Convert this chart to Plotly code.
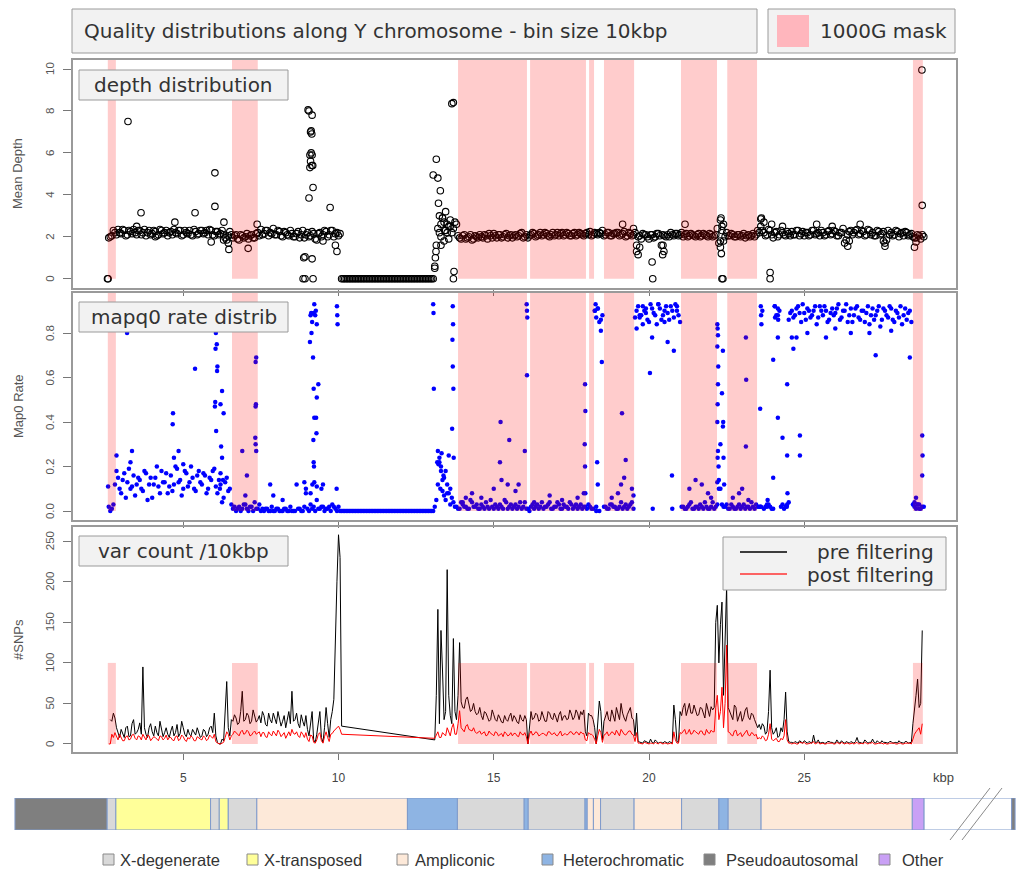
import plotly.graph_objects as go

W, H = 1017, 870
def fx(px): return px / W
def fy(py): return 1 - py / H

# ---------------- data ----------------
bin_start_kbp = 2.6
bin_step_kbp = 0.1

depth = [
    1.95, 2.05, 2.2, 2.35, 2.15, 2.3, 2.1, 2.25, 2.35, 2.1,
    2.3, 2.2, 2.05, 2.3, 2.15, 2.25, 2.1, 2.3, 2.2, 2.05,
    2.25, 2.35, 2.15, 2.3, 2.1, 2.2, 2.3, 2.05, 2.25, 2.15,
    2.3, 2.2, 2.1, 2.3, 2.05, 2.25, 2.15, 2.1, 1.85, 2.25,
    1.95, 2.1, 1.85, 2.05, 2.0, 1.9, 2.1, 1.95, 2.2, 2.35,
    2.15, 2.3, 2.2, 2.4, 2.1, 2.25, 2.0, 2.2, 2.05, 2.15,
    2.0, 2.25, 2.1, 1.95, 2.2, 2.05, 2.15, 1.85, 2.2, 2.1,
    2.25, 2.1, 2.3, 2.15, 2.05, 0, 0, 0, 0, 0,
    0, 0, 0, 0, 0, 0, 0, 0, 0, 0,
    0, 0, 0, 0, 0, 0, 0, 0, 0, 0,
    0, 0, 0, 0, 0, 0.6, 2.4, 2.0, 2.7, 2.2,
    2.5, 2.4, 2.6, 1.95, 2.05, 1.9, 2.0, 1.85, 2.05, 1.95,
    2.0, 2.1, 1.9, 2.05, 2.15, 1.95, 2.1, 2.0, 2.15, 2.05,
    1.95, 2.1, 2.05, 2.2, 2.0, 1.95, 2.1, 2.15, 2.05, 2.2,
    2.1, 2.15, 2.0, 2.2, 2.1, 2.05, 2.2, 2.1, 2.15, 2.05,
    2.2, 2.1, 2.15, 2.05, 2.2, 2.25, 2.1, 2.15, 2.2, 2.3,
    2.1, 2.2, 2.05, 2.15, 2.2, 2.1, 2.25, 2.05, 2.15, 2.1,
    1.6, 2.05, 2.15, 2.1, 1.9, 2.1, 2.0, 2.15, 1.6, 2.05,
    2.1, 2.2, 2.05, 2.15, 2.1, 2.0, 2.15, 2.05, 2.1, 2.0,
    2.15, 2.05, 2.1, 2.0, 2.1, 2.05, 2.4, 1.8, 2.6, 2.2,
    2.05, 2.1, 2.0, 2.1, 2.05, 1.95, 2.1, 2.05, 2.0, 2.3,
    2.5, 2.2, 2.1, 2.3, 1.95, 2.25, 2.1, 2.2, 2.05, 2.15,
    2.25, 2.1, 2.3, 2.15, 2.05, 2.2, 2.1, 2.3, 2.15, 2.05,
    2.2, 2.1, 2.3, 2.15, 2.25, 2.05, 2.2, 1.7, 2.1, 2.3,
    2.2, 2.35, 2.15, 2.25, 2.1, 2.3, 2.2, 2.05, 2.25, 2.15,
    1.7, 2.3, 2.2, 2.1, 2.25, 2.15, 2.05, 2.2, 2.1, 2.0,
    1.95, 2.05, 2.1,
]

# second sample per bin (offset by half a bin)
depth_b = [
    2.0, 2.3, 2.1, 2.2, 2.35, 2.05, 2.3, 2.15, 2.2, 2.3,
    2.1, 2.35, 2.2, 2.1, 2.3, 2.05, 2.35, 2.15, 2.3, 2.2,
    2.1, 2.2, 2.3, 2.05, 2.3, 2.15, 2.1, 2.35, 2.1, 2.3,
    2.15, 2.3, 2.35, 2.1, 2.25, 2.1, 2.3, 1.95, 2.05, 2.1,
    2.05, 1.9, 2.1, 1.95, 2.15, 2.05, 1.95, 2.15, 2.05, 2.1,
    2.3, 2.05, 2.15, 2.1, 2.3, 2.05, 2.25, 2.1, 2.3, 2.0,
    2.15, 1.95, 2.3, 2.1, 2.0, 2.25, 1.9, 2.15, 2.0, 2.3,
    2.0, 2.3, 2.0, 2.2, 2.15, 0, 0, 0, 0, 0,
    0, 0, 0, 0, 0, 0, 0, 0, 0, 0,
    0, 0, 0, 0, 0, 0, 0, 0, 0, 0,
    0, 0, 0, 0, 0, 1.6, 2.2, 2.9, 2.3, 2.5,
    2.2, 2.7, 2.05, 1.9, 2.1, 1.95, 2.1, 1.9, 2.0, 2.1,
    1.95, 2.05, 2.15, 1.95, 2.05, 2.1, 1.95, 2.1, 1.95, 2.1,
    2.05, 2.0, 2.15, 1.95, 2.1, 2.05, 2.2, 2.0, 2.1, 2.05,
    2.2, 2.05, 2.1, 2.05, 2.2, 2.15, 2.05, 2.2, 2.05, 2.15,
    2.05, 2.2, 2.1, 2.15, 2.1, 2.05, 2.2, 2.1, 2.15, 2.05,
    2.2, 2.05, 2.15, 2.2, 2.05, 2.15, 2.0, 2.2, 2.05, 2.2,
    2.0, 1.9, 2.1, 2.0, 2.1, 1.95, 2.15, 2.05, 2.1, 2.0,
    2.0, 2.1, 2.15, 2.05, 2.2, 2.1, 2.0, 2.15, 2.05, 2.1,
    2.0, 2.15, 2.05, 2.15, 2.0, 2.1, 1.7, 2.3, 2.0, 2.05,
    2.15, 2.0, 2.1, 2.0, 2.15, 2.05, 2.0, 2.15, 2.1, 2.2,
    2.3, 2.05, 2.35, 2.1, 2.2, 2.0, 2.3, 2.1, 2.25, 2.05,
    2.1, 2.3, 2.05, 2.25, 2.2, 2.05, 2.3, 2.1, 2.2, 2.3,
    2.05, 2.25, 2.1, 2.3, 2.05, 2.2, 2.4, 1.85, 2.25, 2.1,
    2.3, 2.1, 2.3, 2.05, 2.35, 2.1, 2.05, 2.3, 2.1, 2.25,
    1.85, 2.1, 2.05, 2.3, 2.0, 2.2, 2.25, 2.05, 2.15, 1.95,
    2.1, 1.9, 2.0,
]

depth_outliers = [
    (2.56, 0), (2.58, 0), (3.22, 7.5), (3.64, 3.15), (4.73, 2.7), (5.38, 3.15),
    (6.02, 5.05), (6.02, 3.45), (6.31, 2.7), (6.47, 1.4), (6.45, 1.7), (7.09, 1.45),
    (7.38, 2.6), (3.5, 2.5), (4.1, 2.0), (5.9, 1.75), (6.3, 1.85),
    (8.86, 0), (8.92, 0), (9.18, 0), (8.88, 1.0), (8.92, 1.05), (9.15, 0.95),
    (9.02, 8.05), (9.05, 8.0), (9.15, 7.8), (9.12, 7.05), (9.1, 7.0), (9.14, 6.9),
    (9.12, 6.0), (9.08, 5.9), (9.15, 5.9), (9.1, 5.6), (9.14, 5.4), (9.08, 5.3),
    (9.17, 5.4), (9.18, 4.35), (9.05, 3.85), (9.73, 3.4), (9.95, 1.3), (9.9, 1.6),
    (9.5, 1.8),
    (13.1, 0.5), (13.12, 1.0), (13.14, 1.3), (13.15, 5.7), (13.05, 4.95), (13.2, 4.8),
    (13.28, 4.2), (13.22, 3.6), (13.25, 3.0), (13.3, 1.6), (13.35, 2.9), (13.4, 1.8),
    (13.45, 3.2), (13.5, 2.6), (13.55, 1.9), (13.6, 2.8), (13.65, 8.35), (13.7, 8.4),
    (13.7, 0), (13.72, 0.35), (13.3, 2.6), (13.42, 2.3),
    (19.15, 2.6), (19.5, 2.4), (19.6, 1.3), (19.65, 1.15), (19.7, 1.5), (20.1, 0.8),
    (20.12, 0), (20.48, 1.3), (20.45, 1.6), (20.44, 1.15), (21.16, 2.6),
    (22.3, 2.8), (22.32, 2.9), (22.35, 2.5), (22.3, 1.5), (22.33, 1.2), (22.38, 0),
    (22.35, 0), (22.4, 1.8),
    (23.6, 2.85), (23.62, 2.9), (23.7, 2.7), (23.9, 0.3), (23.9, 0), (23.95, 2.6),
    (24.3, 2.5), (26.4, 1.55), (26.45, 1.8), (27.6, 1.55), (27.55, 1.8), (25.4, 2.6),
    (25.9, 2.5), (26.8, 2.6),
    (28.55, 1.5), (28.79, 9.95), (28.8, 3.5), (28.6, 1.75),
]

mapq0 = [
    0.02, 0.01, 0.12, 0.15, 0.08, 0.17, 0.13, 0.1, 0.16, 0.12,
    0.14, 0.09, 0.17, 0.12, 0.06, 0.15, 0.11, 0.18, 0.13, 0.08,
    0.16, 0.12, 0.19, 0.14, 0.1, 0.17, 0.13, 0.15, 0.09, 0.18,
    0.12, 0.16, 0.1, 0.14, 0.19, 0.08, 0.12, 0.06, 0.15, 0.1,
    0.01, 0.0, 0.02, 0.01, 0.03, 0.0, 0.02, 0.04, 0.01, 0.0,
    0.0, 0.01, 0.0, 0.0, 0.01, 0.0, 0.0, 0.01, 0.0, 0.0,
    0.0, 0.01, 0.0, 0.02, 0.01, 0.03, 0.02, 0.05, 0.01, 0.02,
    0.01, 0.02, 0.03, 0.01, 0.02, 0, 0, 0, 0, 0,
    0, 0, 0, 0, 0, 0, 0, 0, 0, 0,
    0, 0, 0, 0, 0, 0, 0, 0, 0, 0,
    0, 0, 0, 0, 0, 0.02, 0.12, 0.2, 0.15, 0.08,
    0.1, 0.04, 0.02, 0.01, 0.03, 0.02, 0.01, 0.04, 0.02, 0.01,
    0.03, 0.01, 0.02, 0.05, 0.01, 0.02, 0.03, 0.01, 0.04, 0.02,
    0.01, 0.03, 0.02, 0.01, 0.04, 0.01, 0.02, 0.01, 0.03, 0.02,
    0.01, 0.02, 0.04, 0.01, 0.02, 0.03, 0.01, 0.02, 0.01, 0.03,
    0.02, 0.01, 0.03, 0.02, 0.01, 0.02, 0.01, 0.02, 0.0, 0.88,
    0.02, 0.01, 0.03, 0.02, 0.01, 0.04, 0.02, 0.01, 0.03, 0.01,
    0.9, 0.87, 0.92, 0.89, 0.85, 0.91, 0.88, 0.93, 0.86, 0.9,
    0.89, 0.92, 0.87, 0.9, 0.85, 0.02, 0.01, 0.03, 0.01, 0.02,
    0.01, 0.02, 0.04, 0.01, 0.02, 0.01, 0.03, 0.1, 0.02, 0.03,
    0.01, 0.02, 0.01, 0.03, 0.02, 0.01, 0.02, 0.04, 0.01, 0.02,
    0.02, 0.01, 0.03, 0.02, 0.01, 0.88, 0.9, 0.03, 0.02, 0.86,
    0.9, 0.88, 0.92, 0.85, 0.89, 0.91, 0.87, 0.9, 0.84, 0.92,
    0.88, 0.9, 0.86, 0.91, 0.89, 0.93, 0.87, 0.9, 0.85, 0.91,
    0.88, 0.92, 0.86, 0.9, 0.89, 0.84, 0.91, 0.88, 0.92, 0.86,
    0.9, 0.87, 0.91, 0.85, 0.89, 0.92, 0.88, 0.86, 0.9, 0.03,
    0.01, 0.03, 0.02,
]

mapq0_b = [
    0.0, 0.03, 0.18, 0.1, 0.14, 0.06, 0.19, 0.11, 0.07, 0.15,
    0.1, 0.18, 0.05, 0.15, 0.12, 0.2, 0.08, 0.13, 0.17, 0.11,
    0.09, 0.2, 0.13, 0.07, 0.18, 0.11, 0.2, 0.1, 0.16, 0.13,
    0.17, 0.08, 0.15, 0.18, 0.11, 0.14, 0.04, 0.13, 0.09, 0.03,
    0.02, 0.01, 0.0, 0.03, 0.01, 0.02, 0.0, 0.01, 0.03, 0.01,
    0.01, 0.0, 0.02, 0.0, 0.01, 0.0, 0.01, 0.0, 0.02, 0.0,
    0.12, 0.01, 0.0, 0.1, 0.0, 0.01, 0.0, 0.01, 0.02, 0.0,
    0.01, 0.0, 0.02, 0.0, 0.0, 0, 0, 0, 0, 0,
    0, 0, 0, 0, 0, 0, 0, 0, 0, 0,
    0, 0, 0, 0, 0, 0, 0, 0, 0, 0,
    0, 0, 0, 0, 0, 0.05, 0.22, 0.09, 0.18, 0.25,
    0.06, 0.02, 0.01, 0.04, 0.02, 0.01, 0.05, 0.02, 0.03, 0.01,
    0.02, 0.04, 0.01, 0.02, 0.03, 0.01, 0.02, 0.05, 0.01, 0.03,
    0.02, 0.01, 0.04, 0.02, 0.01, 0.0, 0.03, 0.02, 0.01, 0.04,
    0.02, 0.03, 0.01, 0.02, 0.04, 0.01, 0.03, 0.02, 0.04, 0.01,
    0.03, 0.02, 0.01, 0.02, 0.03, 0.01, 0.9, 0.91, 0.86, 0.02,
    0.01, 0.03, 0.02, 0.01, 0.02, 0.01, 0.03, 0.02, 0.04, 0.87,
    0.92, 0.88, 0.9, 0.86, 0.93, 0.89, 0.84, 0.91, 0.88, 0.92,
    0.86, 0.9, 0.93, 0.88, 0.02, 0.01, 0.02, 0.04, 0.01, 0.02,
    0.03, 0.01, 0.02, 0.01, 0.04, 0.02, 0.14, 0.03, 0.02, 0.01,
    0.03, 0.01, 0.02, 0.01, 0.03, 0.02, 0.01, 0.02, 0.03, 0.02,
    0.9, 0.02, 0.03, 0.01, 0.92, 0.88, 0.02, 0.01, 0.03, 0.89,
    0.87, 0.91, 0.89, 0.93, 0.86, 0.9, 0.88, 0.92, 0.87, 0.9,
    0.92, 0.85, 0.89, 0.88, 0.91, 0.86, 0.9, 0.93, 0.88, 0.85,
    0.91, 0.87, 0.9, 0.85, 0.92, 0.88, 0.86, 0.9, 0.83, 0.91,
    0.88, 0.92, 0.86, 0.9, 0.87, 0.84, 0.91, 0.89, 0.85, 0.02,
    0.03, 0.01, 0.02,
]

mapq0_outliers = [
    (2.58, 0.11), (2.85, 0.25), (3.19, 0.8), (3.3, 0.22), (3.35, 0.27), (4.67, 0.44),
    (4.66, 0.39), (4.85, 0.27), (5.0, 0.21), (5.38, 0.64), (4.7, 0.24),
    (6.05, 0.8), (6.08, 0.75), (6.04, 0.73), (6.1, 0.65), (6.09, 0.63), (6.03, 0.49),
    (6.02, 0.47), (6.06, 0.36), (6.25, 0.54), (6.3, 0.44), (6.2, 0.48), (6.22, 0.29),
    (6.25, 0.24), (6.2, 0.17), (6.18, 0.1), (6.28, 0.14),
    (6.9, 0.27), (7.05, 0.16), (7.0, 0.07), (7.35, 0.69), (7.33, 0.67), (7.34, 0.48),
    (7.33, 0.47), (7.32, 0.33), (7.33, 0.3), (7.35, 0.27),
    (7.8, 0.12), (7.9, 0.07), (8.2, 0.05), (8.9, 0.13), (8.95, 0.08),
    (9.1, 0.88), (9.12, 0.89), (9.15, 0.85), (9.2, 0.89), (9.22, 0.93), (9.25, 0.88),
    (9.27, 0.9), (9.3, 0.84), (9.13, 0.8), (9.08, 0.76), (9.18, 0.69), (9.2, 0.55),
    (9.35, 0.57), (9.3, 0.51), (9.28, 0.42), (9.22, 0.42), (9.29, 0.35), (9.19, 0.32),
    (9.2, 0.22), (9.21, 0.2), (9.16, 0.12), (9.22, 0.13), (9.3, 0.11), (9.1, 0.08),
    (9.45, 0.1), (9.5, 0.12), (9.95, 0.92), (9.96, 0.88), (9.97, 0.84), (9.94, 0.1),
    (13.05, 0.93), (13.06, 0.89), (13.07, 0.55), (13.68, 0.92), (13.69, 0.84),
    (13.67, 0.77), (13.68, 0.65), (13.7, 0.55), (13.66, 0.37), (13.71, 0.24),
    (13.2, 0.27), (13.25, 0.24), (13.22, 0.21), (13.3, 0.18), (13.35, 0.14),
    (13.28, 0.1), (13.4, 0.07), (13.45, 0.05), (13.18, 0.22), (13.32, 0.26),
    (13.38, 0.16), (13.5, 0.12), (13.55, 0.08), (13.6, 0.03),
    (14.0, 0.04), (14.1, 0.06), (14.3, 0.08), (14.6, 0.06), (15.0, 0.1), (15.22, 0.4),
    (15.5, 0.32), (15.2, 0.22), (15.25, 0.14), (15.45, 0.12), (15.7, 0.09), (15.8, 0.12),
    (16.0, 0.27), (16.06, 0.93), (16.07, 0.9), (16.08, 0.87), (16.07, 0.61), (16.3, 0.04),
    (16.8, 0.07), (17.2, 0.05), (17.7, 0.06), (17.9, 0.08),
    (17.94, 0.57), (17.95, 0.45), (17.93, 0.3), (17.94, 0.2), (17.95, 0.08),
    (18.26, 0.9), (18.28, 0.93), (18.3, 0.87), (18.35, 0.91), (18.4, 0.85),
    (18.45, 0.81), (18.48, 0.67), (18.33, 0.22), (18.35, 0.12), (18.3, 0.0),
    (19.13, 0.44), (19.25, 0.23), (19.2, 0.15), (19.1, 0.12), (19.0, 0.08), (18.8, 0.06),
    (19.45, 0.1), (19.5, 0.07),
    (19.6, 0.82), (19.7, 0.88), (19.8, 0.84), (20.03, 0.62), (20.1, 0.78), (20.6, 0.76),
    (20.8, 0.72), (20.12, 0.01), (20.75, 0.01), (20.74, 0.16), (19.9, 0.91), (20.3, 0.93),
    (20.5, 0.85), (20.9, 0.92),
    (21.3, 0.1), (21.5, 0.14), (21.7, 0.12), (21.9, 0.08), (22.0, 0.06),
    (22.2, 0.84), (22.21, 0.82), (22.22, 0.79), (22.2, 0.74), (22.23, 0.65),
    (22.22, 0.57), (22.21, 0.48), (22.2, 0.4), (22.22, 0.27), (22.2, 0.13),
    (22.24, 0.2), (22.25, 0.1), (22.21, 0.24), (22.3, 0.3), (22.38, 0.72),
    (22.39, 0.4), (22.38, 0.38), (22.4, 0.24), (22.42, 0.12), (22.35, 0.53),
    (23.12, 0.78), (23.13, 0.59), (23.12, 0.29), (22.7, 0.06), (22.9, 0.08),
    (23.0, 0.1), (23.2, 0.05),
    (23.6, 0.92), (23.61, 0.88), (23.62, 0.84), (23.58, 0.46), (23.6, 0.02),
    (23.8, 0.02), (23.82, 0.05), (24.0, 0.15), (24.0, 0.68), (24.05, 0.92),
    (24.06, 0.87), (24.15, 0.91), (24.16, 0.86), (24.15, 0.78), (24.15, 0.42),
    (24.3, 0.33), (24.45, 0.57), (24.45, 0.25), (24.46, 0.08), (24.44, 0.02),
    (24.5, 0.04),
    (24.6, 0.78), (24.65, 0.73), (24.86, 0.34), (24.86, 0.25), (24.75, 0.78),
    (25.7, 0.78), (27.1, 0.8), (27.3, 0.7), (28.4, 0.69), (26.0, 0.82), (26.5, 0.8),
    (27.8, 0.81), (25.1, 0.8),
    (28.8, 0.34), (28.81, 0.25), (28.8, 0.16), (28.6, 0.06), (28.55, 0.04),
    (28.7, 0.01), (28.65, 0.03),
]

snps_pre = [
    None, 28, 32, 12, 18, 8, 22, 10, 30, 14,
    26, 95, 12, 20, 15, 22, 10, 18, 14, 12,
    16, 10, 24, 13, 20, 9, 12, 18, 11, 15,
    10, 16, 12, 22, 38, 2, 0, 4, 77, 10,
    28, 32, 26, 65, 30, 35, 28, 33, 30, 26,
    35, 22, 30, 38, 25, 32, 28, 20, 40, 65,
    30, 25, 36, 22, 18, 28, 5, 12, 40, 2,
    45, 8, 40, 150, 258, 22, None, None, None, None,
    None, None, None, None, None, None, None, None, None, None,
    None, None, None, None, None, None, None, None, None, None,
    None, None, None, None, None, 5, 166, 140, 30, 215,
    35, 130, 30, 125, 45, 55, 48, 42, 40, 38,
    35, 40, 33, 30, 36, 28, 32, 26, 30, 34,
    28, 32, 25, 30, 35, 0, 40, 32, 36, 30,
    34, 28, 38, 30, 33, 36, 29, 35, 31, 37,
    33, 38, 40, 42, 10, 35, 30, 0, 53, 5,
    35, 30, 42, 28, 38, 50, 32, 36, 45, 30,
    38, 2, 1, 3, 1, 2, 5, 1, 2, 3,
    1, 2, 48, 3, 40, 45, 35, 50, 38, 42,
    36, 44, 32, 40, 46, 45, 171, 147, 60, 195,
    40, 30, 45, 35, 28, 42, 33, 38, 30, 20,
    18, 22, 15, 91, 12, 20, 10, 15, 64, 3,
    2, 3, 1, 2, 4, 1, 2, 11, 2, 1,
    2, 1, 3, 2, 1, 2, 4, 1, 2, 3,
    1, 8, 2, 1, 3, 2, 6, 1, 2, 4,
    2, 1, 3, 2, 1, 2, 1, 3, 2, 25,
    60, 45, 140,
]

snps_pre_b = [
    30, 38, 20, 8, 14, 20, 9, 25, 12, 18,
    12, 20, 8, 25, 10, 14, 28, 9, 20, 8,
    22, 14, 9, 28, 12, 18, 10, 14, 20, 8,
    18, 9, 20, 14, 10, 0, 6, 45, 20, 30,
    36, 24, 40, 28, 38, 25, 42, 27, 35, 40,
    24, 38, 26, 30, 40, 22, 35, 30, 25, 28,
    38, 20, 28, 35, 10, 40, 2, 30, 8, 20,
    25, 30, 55, 200, 230, None, None, None, None, None,
    None, None, None, None, None, None, None, None, None, None,
    None, None, None, None, None, None, None, None, None, None,
    None, None, None, None, None, 60, 25, 90, 40, 60,
    25, 40, 60, 52, 44, 58, 40, 50, 36, 45,
    30, 38, 28, 42, 30, 36, 27, 35, 28, 38,
    35, 27, 36, 28, 30, 25, 30, 38, 28, 40,
    28, 40, 32, 38, 27, 40, 34, 30, 42, 30,
    42, 30, 36, 15, 38, 35, 20, 30, 40, 28,
    40, 28, 35, 45, 30, 38, 28, 40, 32, 10,
    3, 1, 4, 2, 6, 1, 3, 2, 1, 2,
    3, 1, 30, 2, 35, 50, 42, 38, 48, 35,
    45, 38, 50, 34, 42, 150, 100, 175, 120, 45,
    35, 48, 28, 40, 33, 45, 30, 36, 25, 24,
    25, 12, 40, 20, 15, 8, 20, 30, 15, 2,
    1, 2, 4, 1, 2, 3, 1, 2, 5, 2,
    1, 3, 2, 1, 5, 1, 2, 3, 1, 2,
    3, 2, 1, 5, 1, 2, 2, 4, 1, 2,
    1, 3, 1, 2, 4, 1, 3, 1, 2, 40,
    80, 50, None,
]

snps_post = [
    0, 12, 14, 5, 8, 4, 10, 6, 12, 5,
    9, 12, 5, 10, 6, 8, 4, 9, 7, 5,
    8, 4, 10, 6, 9, 3, 6, 8, 4, 7,
    5, 8, 6, 9, 12, 1, 0, 2, 15, 5,
    12, 14, 10, 17, 13, 15, 11, 16, 13, 9,
    14, 8, 12, 16, 10, 14, 11, 7, 15, 18,
    12, 10, 15, 8, 6, 11, 2, 5, 14, 1,
    15, 3, 13, 18, 22, 12, None, None, None, None,
    None, None, None, None, None, None, None, None, None, None,
    None, None, None, None, None, None, None, None, None, None,
    None, None, None, None, None, 7, 15, 8, 12, 20,
    10, 25, 12, 41, 18, 22, 18, 16, 15, 14,
    12, 15, 11, 13, 10, 14, 12, 9, 13, 11,
    10, 13, 9, 12, 14, 0, 16, 12, 14, 11,
    13, 10, 15, 12, 11, 14, 10, 13, 12, 15,
    12, 14, 15, 13, 4, 12, 10, 0, 18, 2,
    12, 10, 15, 11, 13, 18, 12, 14, 16, 11,
    14, 1, 0, 1, 0, 1, 2, 0, 1, 1,
    0, 1, 15, 1, 14, 16, 12, 18, 13, 15,
    12, 16, 11, 14, 17, 15, 60, 40, 20, 122,
    14, 10, 17, 12, 9, 15, 11, 14, 10, 6,
    6, 8, 5, 25, 4, 7, 3, 5, 30, 1,
    0, 1, 0, 1, 2, 0, 1, 3, 1, 0,
    1, 0, 1, 1, 0, 1, 2, 0, 1, 1,
    0, 2, 1, 0, 1, 1, 2, 0, 1, 1,
    1, 0, 1, 1, 0, 1, 0, 1, 1, 8,
    15, 20, 25,
]

snps_post_b = [
    0, 8, 10, 12, 4, 9, 5, 11, 7, 10,
    5, 8, 11, 4, 9, 6, 10, 5, 11, 8,
    5, 9, 4, 11, 5, 8, 10, 4, 9, 6,
    10, 4, 11, 7, 3, 0, 1, 8, 12, 10,
    16, 11, 15, 12, 17, 10, 14, 12, 15, 14,
    9, 15, 10, 13, 17, 9, 14, 12, 10, 13,
    15, 8, 12, 14, 3, 10, 1, 12, 4, 9,
    8, 12, 16, 20, 18, None, None, None, None, None,
    None, None, None, None, None, None, None, None, None, None,
    None, None, None, None, None, None, None, None, None, None,
    None, None, None, None, None, 12, 8, 14, 10, 16,
    20, 12, 25, 20, 15, 24, 17, 20, 13, 16,
    14, 10, 16, 12, 15, 10, 13, 15, 10, 14,
    13, 10, 15, 11, 9, 12, 11, 15, 10, 13,
    11, 15, 12, 14, 10, 16, 12, 11, 15, 12,
    15, 11, 13, 5, 14, 12, 6, 10, 14, 11,
    15, 12, 14, 17, 10, 15, 11, 16, 12, 3,
    1, 0, 2, 1, 1, 0, 1, 2, 0, 1,
    1, 0, 5, 1, 13, 18, 14, 12, 17, 13,
    16, 12, 18, 13, 15, 45, 30, 70, 50, 15,
    11, 16, 10, 14, 12, 17, 10, 13, 12, 8,
    10, 4, 12, 6, 5, 3, 7, 10, 5, 1,
    1, 0, 2, 1, 0, 1, 1, 0, 2, 1,
    0, 1, 1, 0, 2, 0, 1, 1, 0, 1,
    1, 0, 1, 2, 0, 1, 0, 1, 1, 0,
    0, 1, 1, 0, 1, 0, 1, 1, 0, 12,
    18, 12, None,
]

mask_start = [2.57, 6.57, 13.85, 16.17, 18.07, 18.55, 21.03, 22.52, 28.50]
mask_end   = [2.83, 7.40, 16.07, 17.97, 18.23, 19.52, 22.19, 23.48, 28.82]

region_start = [-0.42, 2.55, 2.83, 5.88, 6.16, 6.45, 7.37, 12.22, 13.83, 15.98, 16.11,
                17.94, 18.01, 18.21, 18.44, 19.52, 21.05, 22.25, 22.55, 23.61, 28.48,
                28.86, 31.68]
region_end   = [2.55, 2.83, 5.88, 6.16, 6.45, 7.37, 12.22, 13.83, 15.98, 16.11, 17.94,
                18.01, 18.21, 18.44, 19.52, 21.05, 22.25, 22.55, 23.61, 28.48, 28.86,
                31.68, 31.79]
region_type  = ["Pseudoautosomal", "X-degenerate", "X-transposed", "X-degenerate",
                "X-transposed", "X-degenerate", "Ampliconic", "Heterochromatic",
                "X-degenerate", "Heterochromatic", "X-degenerate", "Heterochromatic",
                "Ampliconic", "Ampliconic", "X-degenerate", "Ampliconic", "X-degenerate",
                "Heterochromatic", "X-degenerate", "Ampliconic", "Other", "none",
                "Pseudoautosomal"]

region_legend = ["X-degenerate", "X-transposed", "Ampliconic", "Heterochromatic",
                 "Pseudoautosomal", "Other"]
region_color = {"X-degenerate": "#d9d9d9", "X-transposed": "#ffff99",
                "Ampliconic": "#fde9d9", "Heterochromatic": "#8eb4e3",
                "Pseudoautosomal": "#7f7f7f", "Other": "#c9a0f5", "none": "#ffffff"}

x_ticks = [5, 10, 15, 20, 25]
y1_ticks = [0, 2, 4, 6, 8, 10]
y1_labels = ["0", "2", "4", "6", "8", "10"]
y2_ticks = [0, 0.2, 0.4, 0.6, 0.8]
y2_labels = ["0.0", "0.2", "0.4", "0.6", "0.8"]
y3_ticks = [0, 50, 100, 150, 200, 250]
y3_labels = ["0", "50", "100", "150", "200", "250"]

# ---------------- layout geometry ----------------
PX0, PX_PER = 28.0, 31.05
xr = [(73 - PX0) / PX_PER, (956 - PX0) / PX_PER]
xr_full = [(0 - PX0) / PX_PER, (W - PX0) / PX_PER]
y1r = [-0.44, 10.43]
y2r = [-0.04, 0.98]
y3r = [-9.9, 267.6]

pos = [round(bin_start_kbp + i * bin_step_kbp, 3) for i in range(len(depth))]
pos_b = [round(p + bin_step_kbp / 2, 3) for p in pos]

def merge(xa, ya, xb, yb):
    pts = sorted(list(zip(xa, ya)) + list(zip(xb, yb)), key=lambda t: t[0])
    return [p[0] for p in pts], [p[1] for p in pts]

fig = go.Figure()

circ = dict(symbol="circle-open", size=6.5, color="black", line=dict(width=1.1, color="black"))
for xs, ys in [(pos, depth), (pos_b, depth_b),
               ([p[0] for p in depth_outliers], [p[1] for p in depth_outliers])]:
    fig.add_trace(go.Scatter(x=xs, y=ys, mode="markers", xaxis="x", yaxis="y",
                             marker=circ, showlegend=False, hoverinfo="skip"))

for xs, ys in [(pos, mapq0), (pos_b, mapq0_b),
               ([p[0] for p in mapq0_outliers], [p[1] for p in mapq0_outliers])]:
    fig.add_trace(go.Scatter(x=xs, y=ys, mode="markers", xaxis="x2", yaxis="y2",
                             marker=dict(symbol="circle", size=4.5, color="#0000ff",
                                         line=dict(width=0)),
                             showlegend=False, hoverinfo="skip"))

px_, py_ = merge(pos, snps_pre, pos_b, snps_pre_b)
fig.add_trace(go.Scatter(x=px_, y=py_, mode="lines", xaxis="x3", yaxis="y3",
                         line=dict(color="black", width=1), connectgaps=True,
                         showlegend=False, hoverinfo="skip"))
qx_, qy_ = merge(pos, snps_post, pos_b, snps_post_b)
fig.add_trace(go.Scatter(x=qx_, y=qy_, mode="lines", xaxis="x3", yaxis="y3",
                         line=dict(color="#ff0000", width=1), connectgaps=True,
                         showlegend=False, hoverinfo="skip"))
fig.add_trace(go.Scatter(x=[0], y=[0.5], mode="markers", xaxis="x4", yaxis="y4",
                         marker=dict(size=1, opacity=0), showlegend=False,
                         hoverinfo="skip"))

shapes = []
mask_fill = "rgba(255,0,0,0.2)"
for s, e in zip(mask_start, mask_end):
    shapes.append(dict(type="rect", xref="x", yref="y", x0=s, x1=e, y0=0, y1=y1r[1],
                       fillcolor=mask_fill, line=dict(width=0), layer="above"))
    shapes.append(dict(type="rect", xref="x2", yref="y2", x0=s, x1=e, y0=0, y1=y2r[1],
                       fillcolor=mask_fill, line=dict(width=0), layer="above"))
    shapes.append(dict(type="rect", xref="x3", yref="y3", x0=s, x1=e, y0=0, y1=100,
                       fillcolor=mask_fill, line=dict(width=0), layer="above"))

box_fill = "#f2f2f2"
box_line = "#9a9a9a"
def pbox(x0, y0, x1, y1):
    shapes.append(dict(type="rect", xref="paper", yref="paper",
                       x0=fx(x0), x1=fx(x1), y0=fy(y1), y1=fy(y0),
                       fillcolor=box_fill, line=dict(color=box_line, width=1),
                       layer="above"))

pbox(72, 9, 757, 53)
pbox(768, 9, 955, 53)
pbox(79, 70, 288, 100)
pbox(79, 302, 288, 332)
pbox(79, 536, 288, 566)
pbox(723, 537, 946, 590)
shapes.append(dict(type="rect", xref="paper", yref="paper",
                   x0=fx(777), x1=fx(809), y0=fy(47), y1=fy(15),
                   fillcolor="#ffb6bd", line=dict(width=0), layer="above"))
shapes.append(dict(type="line", xref="paper", yref="paper", x0=fx(740), x1=fx(787),
                   y0=fy(552), y1=fy(552), line=dict(color="black", width=1.5), layer="above"))
shapes.append(dict(type="line", xref="paper", yref="paper", x0=fx(740), x1=fx(787),
                   y0=fy(574), y1=fy(574), line=dict(color="#ff3333", width=1.5), layer="above"))

for s, e, t in zip(region_start, region_end, region_type):
    shapes.append(dict(type="rect", xref="x4", yref="y4", x0=s, x1=e, y0=0, y1=1,
                       fillcolor=region_color[t], line=dict(color="#7f9acb", width=1),
                       layer="above"))
for xa, xb in [(950, 990), (962, 1002)]:
    shapes.append(dict(type="line", xref="paper", yref="paper", x0=fx(xa), x1=fx(xb),
                       y0=fy(840), y1=fy(788), line=dict(color="#8a8a8a", width=1),
                       layer="above"))

leg_sq_x = [103, 247, 397, 542, 704, 879]
leg_tx_x = [118, 262, 413, 561, 724, 900]
annotations = []
for name, sx, tx in zip(region_legend, leg_sq_x, leg_tx_x):
    shapes.append(dict(type="rect", xref="paper", yref="paper", x0=fx(sx), x1=fx(sx + 11),
                       y0=fy(865), y1=fy(854),
                       fillcolor=region_color[name], line=dict(color="#8a8a8a", width=1),
                       layer="above"))
    annotations.append(dict(text=name, xref="paper", yref="paper", x=fx(tx), y=fy(860),
                            xanchor="left", yanchor="middle", showarrow=False,
                            font=dict(family="Liberation Sans", size=16.5, color="#333")))

box_font = dict(family="DejaVu Sans", size=20, color="#333")
def ann(text, x, y, xanchor="left", font=box_font, **kw):
    annotations.append(dict(text=text, xref="paper", yref="paper", x=fx(x), y=fy(y),
                            xanchor=xanchor, yanchor="middle", showarrow=False,
                            font=font, **kw))

ann("Quality distributions along Y chromosome - bin size 10kbp", 82, 31)
ann("1000G mask", 818, 31)
ann("depth distribution", 183.5, 85, xanchor="center")
ann("mapq0 rate distrib", 183.5, 317, xanchor="center")
ann("var count /10kbp", 183.5, 551, xanchor="center")
ann("pre filtering", 936, 552, xanchor="right")
ann("post filtering", 936, 575, xanchor="right")
ann("kbp", 943, 777, xanchor="center",
    font=dict(family="Liberation Sans", size=13, color="#444"))
ytitle_font = dict(family="Liberation Sans", size=13, color="#555")
ann("Mean Depth", 18, 174, xanchor="center", font=ytitle_font, textangle=-90)
ann("Map0 Rate", 18, 406, xanchor="center", font=ytitle_font, textangle=-90)
ann("#SNPs", 18, 640, xanchor="center", font=ytitle_font, textangle=-90)

# rotated y tick labels placed through each panel's y scale
tick_font = dict(family="Liberation Sans", size=11.5, color="#555")
for yref, vals, labs in [("y", y1_ticks, y1_labels), ("y2", y2_ticks, y2_labels),
                         ("y3", y3_ticks, y3_labels)]:
    for v, lab in zip(vals, labs):
        annotations.append(dict(text=lab, xref="paper", yref=yref, x=fx(50), y=v,
                                xanchor="center", yanchor="middle", showarrow=False,
                                textangle=-90, font=tick_font))

def xax(anchor, labels):
    return dict(domain=[fx(73), fx(956)], range=xr, anchor=anchor, showgrid=False,
                zeroline=False, showline=True, mirror=True, linecolor="#9a9a9a",
                linewidth=2, ticks="outside", ticklen=6, tickwidth=1, tickcolor="#777",
                tickvals=x_ticks, showticklabels=labels, tickfont=dict(
                    family="Liberation Sans", size=12, color="#444"),
                ticklabelstandoff=8)

def yax(anchor, top, bottom, rng, tickvals):
    return dict(domain=[fy(bottom), fy(top)], range=rng, anchor=anchor, showgrid=False,
                zeroline=False, showline=True, mirror=True, linecolor="#9a9a9a",
                linewidth=2, ticks="outside", ticklen=8, tickwidth=1, tickcolor="#777",
                tickvals=tickvals, showticklabels=False)

fig.update_layout(
    width=W, height=H, autosize=False,
    margin=dict(l=0, r=0, t=0, b=0),
    paper_bgcolor="white", plot_bgcolor="white",
    xaxis=xax("y", False),
    xaxis2=xax("y2", False),
    xaxis3=xax("y3", True),
    yaxis=yax("x", 60, 288, y1r, y1_ticks),
    yaxis2=yax("x2", 293, 520, y2r, y2_ticks),
    yaxis3=yax("x3", 527, 752, y3r, y3_ticks),
    xaxis4=dict(domain=[0, 1], range=xr_full, anchor="y4", visible=False),
    yaxis4=dict(domain=[fy(830), fy(798)], range=[0, 1], anchor="x4", visible=False),
    shapes=shapes,
    annotations=annotations,
    showlegend=False,
)

fig.write_html("out.html", config={"displayModeBar": False},
               post_script="document.body.style.margin='0';document.body.style.overflow='hidden';")
